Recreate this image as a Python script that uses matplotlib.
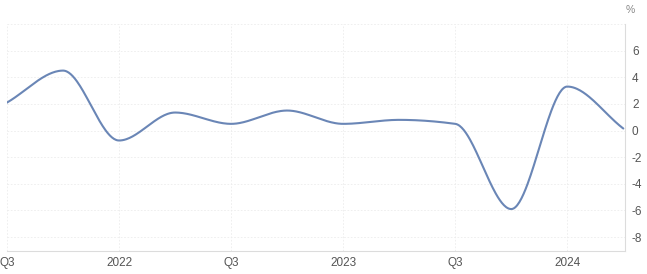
import numpy as np
import matplotlib as mpl
mpl.use('Agg')
import matplotlib.pyplot as plt

plt.rcParams['font.family'] = ['Liberation Sans', 'DejaVu Sans']

# quarterly values, 2021 Q3 .. 2024 Q2
quarters = ['2021Q3', '2021Q4', '2022Q1', '2022Q2', '2022Q3', '2022Q4',
            '2023Q1', '2023Q2', '2023Q3', '2023Q4', '2024Q1', '2024Q2']
values = [2.1, 4.5, -0.75, 1.35, 0.5, 1.5, 0.5, 0.8, 0.5, -5.9, 3.3, 0.15]
tick_pos = [0, 2, 4, 6, 8, 10]
tick_labels = ['Q3', '2022', 'Q3', '2023', 'Q3', '2024']
y_ticks = [-8, -6, -4, -2, 0, 2, 4, 6]


def pchip(x, y, xs):
    # monotone cubic, just for drawing a smooth line through the points
    x = np.asarray(x, float)
    y = np.asarray(y, float)
    h = np.diff(x)
    d = np.diff(y) / h
    m = np.zeros_like(y)
    for k in range(1, len(y) - 1):
        if d[k - 1] * d[k] > 0:
            w1 = 2 * h[k] + h[k - 1]
            w2 = h[k] + 2 * h[k - 1]
            m[k] = (w1 + w2) / (w1 / d[k - 1] + w2 / d[k])
    m[0] = d[0]
    m[-1] = d[-1]
    idx = np.clip(np.searchsorted(x, xs) - 1, 0, len(h) - 1)
    t = (xs - x[idx]) / h[idx]
    h00 = 2 * t**3 - 3 * t**2 + 1
    h10 = t**3 - 2 * t**2 + t
    h01 = -2 * t**3 + 3 * t**2
    h11 = t**3 - t**2
    return (h00 * y[idx] + h10 * h[idx] * m[idx]
            + h01 * y[idx + 1] + h11 * h[idx] * m[idx + 1])


xi = np.arange(len(values))
xs = np.linspace(0, xi[-1], 600)
ys = pchip(xi, values, xs)

fig = plt.figure(figsize=(6.47, 2.74), dpi=100)
ax = fig.add_axes([7 / 647, 23 / 274, 618 / 647, 227 / 274])

ax.plot(xs, ys, color='#6a86b6', lw=1.5, solid_capstyle='round')

ax.set_xlim(0, 11.03)
ax.set_ylim(-9.05, 8)
ax.set_xticks(tick_pos)
ax.set_xticklabels(tick_labels)
ax.set_yticks(y_ticks + [8])
ax.set_yticklabels([str(v) for v in y_ticks] + [''])

ax.grid(True, color='#ececec', ls=(0, (2, 2)), lw=0.6)
ax.set_axisbelow(True)

for s in ['top', 'left']:
    ax.spines[s].set_visible(False)
for s in ['bottom', 'right']:
    ax.spines[s].set_color('#dcdcdc')
    ax.spines[s].set_linewidth(0.8)

ax.yaxis.tick_right()
ax.tick_params(axis='y', length=0, pad=5, labelsize=8.5, labelcolor='#555555')
ax.tick_params(axis='x', length=0, pad=4, labelsize=8.5, labelcolor='#555555')

fig.text(630 / 647, 1 - 10 / 274, '%', fontsize=7.5, color='#888888',
         ha='center', va='center')

fig.savefig('out.png', dpi=100)
